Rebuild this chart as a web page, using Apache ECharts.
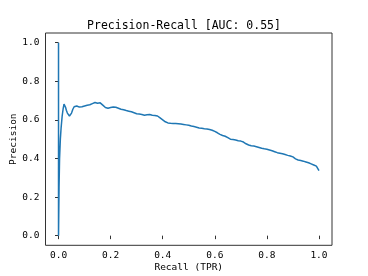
<!DOCTYPE html>
<html>
<head>
<meta charset="utf-8">
<script src="https://cdn.jsdelivr.net/npm/echarts@6/dist/echarts.min.js"></script>
<style>html,body{margin:0;padding:0;background:#fff}#c{width:368px;height:276px}</style>
</head>
<body>
<div id="c"></div>
<script>
var titleText = 'Precision-Recall [AUC: 0.55]';
var xName = 'Recall (TPR)';
var yName = 'Precision';
var tickValues = [0, 0.2, 0.4, 0.6, 0.8, 1.0];

var recall = [0, 0, 0.002, 0.004, 0.007, 0.010, 0.014, 0.018, 0.021, 0.024, 0.027, 0.030, 0.034, 0.038, 0.042, 0.046, 0.050, 0.055, 0.060, 0.065, 0.070, 0.075, 0.080, 0.085, 0.09,
  0.10, 0.11, 0.12, 0.13, 0.14, 0.15, 0.16, 0.17, 0.18, 0.19, 0.20, 0.21, 0.22, 0.23, 0.24, 0.25, 0.26, 0.27, 0.28, 0.29,
  0.30, 0.31, 0.32, 0.33, 0.34, 0.35, 0.36, 0.37, 0.38, 0.39, 0.40, 0.41, 0.42, 0.43, 0.44, 0.45, 0.46, 0.47, 0.48, 0.49,
  0.50, 0.51, 0.52, 0.53, 0.54, 0.55, 0.56, 0.57, 0.58, 0.59, 0.60, 0.61, 0.62, 0.63, 0.64, 0.65, 0.66, 0.67, 0.68, 0.69,
  0.70, 0.71, 0.72, 0.73, 0.74, 0.75, 0.76, 0.77, 0.78, 0.79, 0.80, 0.81, 0.82, 0.83, 0.84, 0.85, 0.86, 0.87, 0.88, 0.89,
  0.90, 0.91, 0.92, 0.93, 0.94, 0.95, 0.96, 0.97, 0.98, 0.99, 0.995, 1.0];
var precision = [1.0, 0.0, 0.25, 0.40, 0.50, 0.56, 0.62, 0.66, 0.682, 0.672, 0.665, 0.650, 0.635, 0.625, 0.620, 0.623, 0.635, 0.655, 0.668, 0.676, 0.672, 0.668, 0.666, 0.670, 0.668,
  0.672, 0.676, 0.678, 0.684, 0.690, 0.686, 0.688, 0.676, 0.664, 0.660, 0.664, 0.667, 0.665, 0.660, 0.655, 0.652, 0.648, 0.645, 0.642, 0.637,
  0.632, 0.630, 0.628, 0.624, 0.626, 0.628, 0.624, 0.623, 0.620, 0.610, 0.600, 0.590, 0.584, 0.582, 0.581, 0.581, 0.580, 0.578, 0.576, 0.574,
  0.572, 0.568, 0.565, 0.562, 0.558, 0.556, 0.554, 0.553, 0.550, 0.546, 0.540, 0.533, 0.525, 0.519, 0.515, 0.508, 0.500, 0.498, 0.496, 0.492,
  0.490, 0.485, 0.476, 0.470, 0.466, 0.464, 0.461, 0.457, 0.453, 0.450, 0.448, 0.444, 0.440, 0.435, 0.430, 0.427, 0.424, 0.420, 0.416, 0.413,
  0.408, 0.398, 0.392, 0.389, 0.386, 0.382, 0.378, 0.372, 0.366, 0.360, 0.352, 0.337];

var data = recall.map(function (r, i) { return [r, precision[i]]; });
var mono = 'DejaVu Sans Mono';
var chart = echarts.init(document.getElementById('c'), null, {renderer: 'canvas'});
chart.setOption({
  animation: false,
  backgroundColor: '#fff',
  title: {
    text: titleText, left: 'center', top: 15,
    textStyle: {fontFamily: mono, fontSize: 11.5, fontWeight: 'normal', color: '#000'}
  },
  grid: {left: 45.5, right: 36, top: 33, bottom: 30.7, show: true, borderColor: '#333', borderWidth: 1,
    containLabel: false, outerBoundsMode: 'none'},
  xAxis: {
    type: 'value', min: -0.05, max: 1.05,
    name: xName, nameLocation: 'middle', nameGap: 17, nameMoveOverlap: false,
    nameTextStyle: {fontFamily: mono, fontSize: 9.5, color: '#000'},
    axisLine: {show: false},
    splitLine: {show: false},
    axisTick: {show: true, customValues: tickValues, length: 3.5, lineStyle: {color: '#333'}},
    axisLabel: {customValues: tickValues, fontFamily: mono, fontSize: 9.5, color: '#000', margin: 5,
      formatter: function (v) { return v.toFixed(1); }}
  },
  yAxis: {
    type: 'value', min: -0.05, max: 1.05,
    name: yName, nameLocation: 'middle', nameGap: 27, nameMoveOverlap: false,
    nameTextStyle: {fontFamily: mono, fontSize: 9.5, color: '#000'},
    axisLine: {show: false},
    splitLine: {show: false},
    axisTick: {show: true, customValues: tickValues, length: 3.5, lineStyle: {color: '#333'}},
    axisLabel: {customValues: tickValues, fontFamily: mono, fontSize: 9.5, color: '#000', margin: 6,
      formatter: function (v) { return v.toFixed(1); }}
  },
  series: [{
    type: 'line', data: data, showSymbol: false, symbol: 'none',
    lineStyle: {color: '#1f77b4', width: 1.5},
    clip: false
  }]
});
</script>
</body>
</html>
